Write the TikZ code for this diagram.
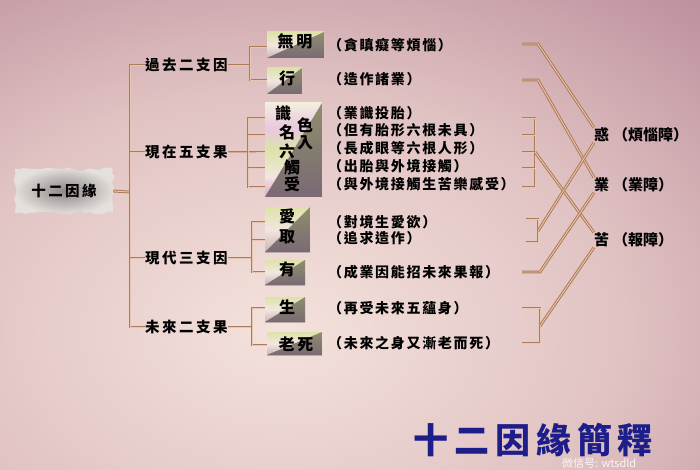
\documentclass[tikz,border=0pt]{standalone}
\usepackage{fontspec}
\newfontfamily\cjk{Noto Sans CJK TC}
\newfontfamily\cjkls{Noto Sans CJK TC}[LetterSpace=17]
\newfontfamily\cjkdesc{Noto Sans CJK TC}[LetterSpace=12]
\newfontfamily\cjktitle{Noto Sans CJK TC}[LetterSpace=17]
\usetikzlibrary{decorations.pathmorphing}
\definecolor{bglight}{HTML}{F4E2DC}
\definecolor{bgmid}{HTML}{E0C2C2}
\definecolor{bgdark}{HTML}{B68696}
\definecolor{lnbrown}{HTML}{AE7A58}
\definecolor{lnlight}{HTML}{E9C6AE}
\definecolor{bx0}{HTML}{F4F0DC}
\definecolor{bx1}{HTML}{DDE3A8}
\definecolor{bx2}{HTML}{F2E6E0}
\definecolor{bx3}{HTML}{C8B4B4}
\definecolor{bx4}{HTML}{A08C94}
\definecolor{pk1}{HTML}{D8A0C4}
\definecolor{pk2}{HTML}{E8C8E0}
\definecolor{lav}{HTML}{C8BCE8}
\definecolor{tri1}{HTML}{8E8E6C}
\definecolor{tri2}{HTML}{7A6A74}
\definecolor{rootdark}{HTML}{8E8886}
\definecolor{rootlight}{HTML}{E4E0DC}
\definecolor{titleblue}{HTML}{1E1E8A}
\pgfdeclareradialshading{bgshade}{\pgfpoint{0bp}{0bp}}{color(0bp)=(bglight); color(14bp)=(bgmid); color(28bp)=(bgdark); color(50bp)=(bgdark)}
\pgfdeclareverticalshading{boxshade}{100bp}{color(0bp)=(bx4); color(25bp)=(bx3); color(50bp)=(bx2); color(75bp)=(bx1); color(100bp)=(bx0)}
\pgfdeclareverticalshading{bigshade}{100bp}{color(0bp)=(bx4); color(12bp)=(bx3); color(24bp)=(pk1); color(36bp)=(bx2); color(50bp)=(bx1); color(62bp)=(pk2); color(76bp)=(bx0); color(88bp)=(lav); color(100bp)=(bx0)}
\tikzset{
  grp/.style={font=\cjkls\bfseries\fontsize{14.5}{15}\selectfont, inner sep=0, anchor=west},
  desc/.style={font=\cjkdesc\bfseries\fontsize{14}{14}\selectfont, inner sep=0, anchor=west},
  rlbl/.style={font=\cjk\bfseries\fontsize{15}{15}\selectfont, inner sep=0, anchor=west},
  ch/.style={font=\cjk\bfseries\fontsize{16}{16}\selectfont, inner sep=0},
  conn/.style={draw=lnbrown, line width=1pt, double=lnlight, double distance=0.9pt},
  trishade/.style={path picture={\shade[top color=tri1, bottom color=tri2]
      (path picture bounding box.north east) -- (path picture bounding box.south east)
      -- (path picture bounding box.south west) -- cycle;}},
  bx/.style={inner sep=0, shading=boxshade, trishade},
  bigbx/.style={inner sep=0, shading=bigshade, trishade},
}
\begin{document}
\begin{tikzpicture}[x=1pt,y=-1pt]
\useasboundingbox (0,0) rectangle (700,470);
\begin{scope}
  \clip (0,0) rectangle (700,470);
  \shade[shading=bgshade] (-340,-100) rectangle (900,760);
\end{scope}

% root
\pgfmathsetseed{7}
\shade[decorate, decoration={random steps, segment length=5pt, amplitude=1.6pt},
  inner color=rootdark, outer color=rootlight] (15,169) rectangle (113,213);
\node[inner sep=0, minimum width=98, minimum height=44, font=\cjkls\bfseries\fontsize{14.5}{15}\selectfont] (root) at (64,191) {十二因緣};

% group labels
\node[grp] (g1) at (145,65) {過去二支因};
\node[grp] (g2) at (145,152) {現在五支果};
\node[grp] (g3) at (145,258) {現代三支因};
\node[grp] (g4) at (145,327) {未來二支果};

% boxes
\node[bx, minimum width=57, minimum height=26] (bA) at (295.5,45) {};
\node[bx, minimum width=35, minimum height=26] (bB) at (284.5,81) {};
\node[bigbx, minimum width=57, minimum height=94] (bC) at (293.5,150) {};
\node[bx, minimum width=45, minimum height=45] (bD) at (287.5,229.5) {};
\node[bx, minimum width=40, minimum height=25] (bE) at (285,272.5) {};
\node[bx, minimum width=40, minimum height=25] (bF) at (285,309.5) {};
\node[bx, minimum width=55, minimum height=23] (bG) at (294.5,343.5) {};

% box characters
\node[ch] (cA) at (295,41) {無\kern3pt 明};
\node[ch] (cB) at (287,78) {行};
\node[ch] (cC1) at (283,113) {識};
\node[ch] (cC2) at (287,132) {名};
\node[ch] (cC3) at (305,125) {色};
\node[ch] (cC4) at (287,151) {六};
\node[ch] (cC5) at (305,143) {入};
\node[ch] (cC6) at (292,167) {觸};
\node[ch] (cC7) at (292,184) {受};
\node[ch] (cD1) at (287,216) {愛};
\node[ch] (cD2) at (287,237) {取};
\node[ch] (cE) at (287,269) {有};
\node[ch] (cF) at (287,307) {生};
\node[ch] (cG) at (296,344) {老\kern3pt 死};

% descriptions
\node[desc] (d1) at (328,45) {（貪瞋癡等煩惱）};
\node[desc] (d2) at (328,79) {（造作諸業）};
\node[desc] (d3) at (328,113) {（業識投胎）};
\node[desc] (d4) at (328,130) {（但有胎形六根未具）};
\node[desc] (d5) at (328,148) {（長成眼等六根人形）};
\node[desc] (d6) at (328,166) {（出胎與外境接觸）};
\node[desc] (d7) at (328,184) {（與外境接觸生苦樂感受）};
\node[desc] (d8) at (328,222) {（對境生愛欲）};
\node[desc] (d9) at (328,238) {（追求造作）};
\node[desc] (d10) at (328,272) {（成業因能招未來果報）};
\node[desc] (d11) at (328,308) {（再受未來五蘊身）};
\node[desc] (d12) at (328,343) {（未來之身又漸老而死）};

% right labels
\node[rlbl] (r1) at (594,135) {惑\hspace{4pt}（煩惱障）};
\node[rlbl] (r2) at (594,185) {業\hspace{4pt}（業障）};
\node[rlbl] (r3) at (594,240) {苦\hspace{4pt}（報障）};

% left tree
\coordinate (tr0) at (130,192);
\coordinate (tr1) at (130,65);
\coordinate (tr4) at (130,327);
\draw[conn] (root.east) -- (tr0);
\draw[conn] (g1.west) -- (tr1) -- (tr4) -- (g4.west);
\draw[conn] (130,152) -- (g2.west);
\draw[conn] (130,258) -- (g3.west);

% group 1
\coordinate (j1) at (250,65);
\draw[conn] (g1.east) -- (j1);
\draw[conn] (bA.west |- 0,47) -- (250,47) -- (250,80) -- (bB.west |- 0,80);
% group 2
\coordinate (j2) at (248,152);
\draw[conn] (g2.east) -- (j2) -- (bC.west |- j2);
\draw[conn] (bC.west |- 0,118) -- (248,118) -- (248,187) -- (bC.west |- 0,187);
\draw[conn] (248,135) -- (bC.west |- 0,135);
\draw[conn] (248,168) -- (bC.west |- 0,168);
% group 3
\coordinate (j3) at (252,258);
\draw[conn] (g3.east) -- (j3);
\draw[conn] (bD.west |- 0,222) -- (252,222) -- (252,272) -- (bE.west |- 0,272);
\draw[conn] (252,240) -- (bD.west |- 0,240);
% group 4
\coordinate (j4) at (252,327);
\draw[conn] (g4.east) -- (j4);
\draw[conn] (bF.west |- 0,308) -- (252,308) -- (252,345) -- (bG.west |- 0,345);

% right connectors
\draw[conn] (522,44) -- (538,44) -- (r1.north west);
\draw[conn] (522,80) -- (538,80) -- (r2.north west);
\draw[conn] (522,118) -- (535,118) -- (535,187) -- (522,187);
\draw[conn] (522,135) -- (535,135);
\draw[conn] (522,152) -- (535,152);
\draw[conn] (522,168) -- (535,168);
\draw[conn] (535,152) -- (r3.north west);
\draw[conn] (526,219) -- (538,219) -- (538,242) -- (526,242);
\draw[conn] (538,231) -- (r1.south west);
\draw[conn] (522,272) -- (540,272) -- (r2.south west);
\draw[conn] (522,308) -- (540,308) -- (540,343) -- (522,343);
\draw[conn] (540,326) -- (r3.south west);

% title
\node[inner sep=0, anchor=west, text=titleblue, font=\cjktitle\bfseries\fontsize{35}{35}\selectfont] (title) at (413,440) {十二因緣簡釋};
\node[inner sep=0, anchor=west, text=white, opacity=0.85, font=\cjk\fontsize{11}{11}\selectfont] (wm) at (562,463) {微信号: wtsdld};
\end{tikzpicture}
\end{document}
